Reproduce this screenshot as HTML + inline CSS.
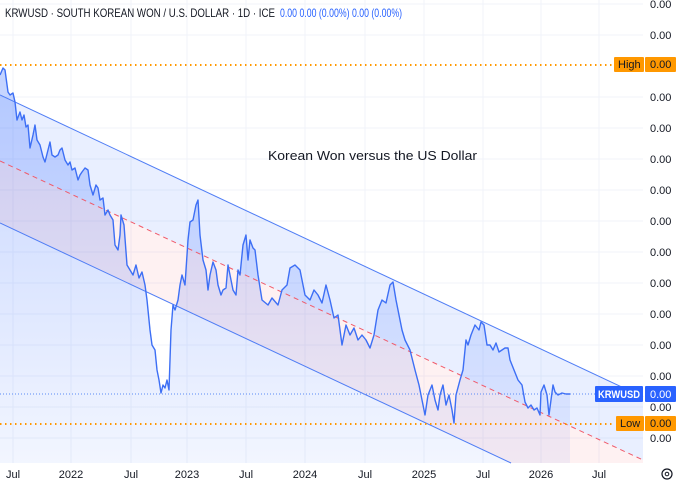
<!DOCTYPE html>
<html><head><meta charset="utf-8"><style>
html,body{margin:0;padding:0;width:687px;height:484px;overflow:hidden;background:#fff;font-family:"Liberation Sans",sans-serif;}
svg{display:block;position:absolute;left:0;top:0}
</style></head><body>
<svg width="687" height="484" viewBox="0 0 687 484" xmlns="http://www.w3.org/2000/svg" font-family="Liberation Sans, sans-serif" overflow="hidden">
<defs>
<linearGradient id="ag" x1="0" y1="0" x2="0" y2="1"><stop offset="0" stop-color="#2962ff" stop-opacity="0.28"/><stop offset="1" stop-color="#2962ff" stop-opacity="0.06"/></linearGradient>
</defs>
<g stroke="#f0f3fa" stroke-width="1">
<line x1="13" y1="0" x2="13" y2="463"/><line x1="71" y1="0" x2="71" y2="463"/><line x1="131" y1="0" x2="131" y2="463"/><line x1="187" y1="0" x2="187" y2="463"/><line x1="246" y1="0" x2="246" y2="463"/><line x1="305" y1="0" x2="305" y2="463"/><line x1="365" y1="0" x2="365" y2="463"/><line x1="424" y1="0" x2="424" y2="463"/><line x1="483" y1="0" x2="483" y2="463"/><line x1="541" y1="0" x2="541" y2="463"/><line x1="599" y1="0" x2="599" y2="463"/>
<line x1="0" y1="4" x2="643" y2="4"/><line x1="0" y1="35" x2="643" y2="35"/><line x1="0" y1="97" x2="643" y2="97"/><line x1="0" y1="128" x2="643" y2="128"/><line x1="0" y1="159" x2="643" y2="159"/><line x1="0" y1="190" x2="643" y2="190"/><line x1="0" y1="221" x2="643" y2="221"/><line x1="0" y1="252" x2="643" y2="252"/><line x1="0" y1="283" x2="643" y2="283"/><line x1="0" y1="314" x2="643" y2="314"/><line x1="0" y1="345" x2="643" y2="345"/><line x1="0" y1="376" x2="643" y2="376"/><line x1="0" y1="407" x2="643" y2="407"/><line x1="0" y1="438" x2="643" y2="438"/>
</g>
<path fill="url(#ag)" stroke="none" d="M0,75 L3,68 5,70 8,92 10,95 13,93 15,102 17,120 20,112 22,120 24,115 26,127 28,125 30,148 33,135 35,125 37,140 40,145 43,157 45,162 48,150 50,142 52,155 55,157 58,155 60,150 62,148 65,160 68,165 70,162 72,170 75,168 78,180 80,175 82,172 85,168 88,170 90,185 93,195 96,185 98,188 100,200 103,198 105,215 108,210 110,215 113,220 115,245 118,250 120,235 121,215 124,225 127,265 130,270 133,275 136,265 139,278 142,272 145,285 147,300 150,330 152,345 155,350 157,370 159,380 161,393 163,385 165,388 167,380 169,390 171,330 173,305 175,310 178,300 180,285 182,275 185,285 188,240 190,222 193,220 196,205 198,200 200,235 203,260 206,270 208,290 210,275 213,262 216,270 218,285 221,295 223,290 226,288 228,265 230,275 233,290 236,295 238,270 240,275 243,245 246,235 248,260 250,240 253,248 255,250 258,275 262,300 268,305 272,298 278,305 282,290 287,285 290,268 295,265 300,270 305,295 310,300 314,290 318,295 322,303 326,285 330,300 334,318 338,315 342,345 346,325 350,335 354,328 358,340 362,335 366,340 370,348 374,335 378,310 382,300 386,303 390,285 393,282 396,300 399,315 402,330 405,340 410,350 415,370 419,385 422,400 425,415 428,395 432,385 435,400 438,410 440,395 443,385 446,405 449,395 452,410 454,423 456,395 460,380 463,370 466,340 468,345 471,335 475,325 479,330 481,322 484,325 487,345 490,345 493,350 496,343 499,352 502,350 505,348 508,348 510,360 514,370 518,380 522,385 525,402 528,408 531,405 534,410 537,408 540,415 541,392 544,385 547,395 549,415 551,400 553,385 555,392 558,395 562,393 566,394 570,394 L570,463 L0,463 Z"/>
<polygon points="0,95 643,397 643,460 0,161" fill="#2962ff" fill-opacity="0.1"/>
<polygon points="0,161 643,460 643,463 511,463 0,223" fill="#f23645" fill-opacity="0.07"/>
<line x1="0" y1="95" x2="643" y2="397" stroke="#4f7df5" stroke-width="1"/>
<line x1="0" y1="223" x2="511" y2="463" stroke="#4f7df5" stroke-width="1"/>
<line x1="0" y1="161" x2="643" y2="460" stroke="#f05a6a" stroke-width="1" stroke-dasharray="5,4"/>
<line x1="0" y1="394" x2="643" y2="394" stroke="#5b8af5" stroke-width="1" stroke-dasharray="1,2"/>
<path fill="none" stroke="#3d6ff5" stroke-width="1.4" stroke-linejoin="round" d="M0,75 L3,68 5,70 8,92 10,95 13,93 15,102 17,120 20,112 22,120 24,115 26,127 28,125 30,148 33,135 35,125 37,140 40,145 43,157 45,162 48,150 50,142 52,155 55,157 58,155 60,150 62,148 65,160 68,165 70,162 72,170 75,168 78,180 80,175 82,172 85,168 88,170 90,185 93,195 96,185 98,188 100,200 103,198 105,215 108,210 110,215 113,220 115,245 118,250 120,235 121,215 124,225 127,265 130,270 133,275 136,265 139,278 142,272 145,285 147,300 150,330 152,345 155,350 157,370 159,380 161,393 163,385 165,388 167,380 169,390 171,330 173,305 175,310 178,300 180,285 182,275 185,285 188,240 190,222 193,220 196,205 198,200 200,235 203,260 206,270 208,290 210,275 213,262 216,270 218,285 221,295 223,290 226,288 228,265 230,275 233,290 236,295 238,270 240,275 243,245 246,235 248,260 250,240 253,248 255,250 258,275 262,300 268,305 272,298 278,305 282,290 287,285 290,268 295,265 300,270 305,295 310,300 314,290 318,295 322,303 326,285 330,300 334,318 338,315 342,345 346,325 350,335 354,328 358,340 362,335 366,340 370,348 374,335 378,310 382,300 386,303 390,285 393,282 396,300 399,315 402,330 405,340 410,350 415,370 419,385 422,400 425,415 428,395 432,385 435,400 438,410 440,395 443,385 446,405 449,395 452,410 454,423 456,395 460,380 463,370 466,340 468,345 471,335 475,325 479,330 481,322 484,325 487,345 490,345 493,350 496,343 499,352 502,350 505,348 508,348 510,360 514,370 518,380 522,385 525,402 528,408 531,405 534,410 537,408 540,415 541,392 544,385 547,395 549,415 551,400 553,385 555,392 558,395 562,393 566,394 570,394"/>
<line x1="0" y1="65" x2="612" y2="65" stroke="#ff9800" stroke-width="2" stroke-dasharray="1.5,3.5"/>
<line x1="0" y1="424" x2="612" y2="424" stroke="#ff9800" stroke-width="2" stroke-dasharray="1.5,3.5"/>
<text x="5" y="17" font-size="12" fill="#131722" textLength="270" lengthAdjust="spacingAndGlyphs">KRWUSD · SOUTH KOREAN WON / U.S. DOLLAR · 1D · ICE</text>
<text x="280" y="17" font-size="12" fill="#2962ff" textLength="122" lengthAdjust="spacingAndGlyphs">0.00 0.00 (0.00%) 0.00 (0.00%)</text>
<text x="268" y="160" font-size="13" fill="#131722" textLength="209" lengthAdjust="spacingAndGlyphs">Korean Won versus the US Dollar</text>
<g font-size="11" fill="#131722">
<text x="650" y="8">0.00</text><text x="650" y="39">0.00</text><text x="650" y="101">0.00</text><text x="650" y="132">0.00</text><text x="650" y="163">0.00</text><text x="650" y="194">0.00</text><text x="650" y="225">0.00</text><text x="650" y="256">0.00</text><text x="650" y="287">0.00</text><text x="650" y="318">0.00</text><text x="650" y="349">0.00</text><text x="650" y="380">0.00</text><text x="650" y="411">0.00</text><text x="650" y="442">0.00</text>
</g>
<rect x="614" y="57" width="30" height="15" fill="#ff9800" rx="1"/><text x="618" y="68" font-size="11" fill="#131722">High</text>
<rect x="645" y="57" width="31" height="15" fill="#ff9800" rx="1"/><text x="650" y="68" font-size="11" fill="#131722">0.00</text>
<rect x="616" y="416" width="28" height="15" fill="#ff9800" rx="1"/><text x="620" y="427" font-size="11" fill="#131722">Low</text>
<rect x="645" y="416" width="31" height="15" fill="#ff9800" rx="1"/><text x="650" y="427" font-size="11" fill="#131722">0.00</text>
<rect x="595" y="386" width="48" height="16" fill="#2962ff" rx="1"/><text x="598" y="398" font-size="11" fill="#fff" font-weight="bold" textLength="42" lengthAdjust="spacingAndGlyphs">KRWUSD</text>
<rect x="645" y="386" width="31" height="16" fill="#2962ff" rx="1"/><text x="650" y="398" font-size="11" fill="#fff">0.00</text>
<g font-size="11" fill="#131722" text-anchor="middle">
<text x="13" y="478">Jul</text><text x="71" y="478">2022</text><text x="131" y="478">Jul</text><text x="187" y="478">2023</text><text x="246" y="478">Jul</text><text x="305" y="478">2024</text><text x="365" y="478">Jul</text><text x="424" y="478">2025</text><text x="483" y="478">Jul</text><text x="541" y="478">2026</text><text x="599" y="478">Jul</text>
</g>
<circle cx="667" cy="474" r="5" fill="none" stroke="#131722" stroke-width="1.2"/><circle cx="667" cy="474" r="1.8" fill="none" stroke="#131722"/>
</svg>
</body></html>
